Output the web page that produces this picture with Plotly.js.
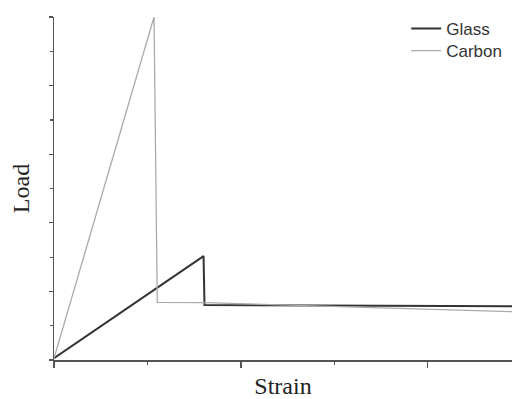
<!DOCTYPE html>
<html>
<head>
<meta charset="utf-8">
<script src="https://cdn.plot.ly/plotly-3.0.1.min.js"></script>
<style>html,body{margin:0;padding:0;background:#fff;}#chart{width:512px;height:399px;}</style>
</head>
<body>
<div id="chart"></div>
<script>
// Data (arbitrary units)
const glassStrain = [0, 1.60, 1.61, 4.9];
const glassLoad   = [0.05, 3.03, 1.60, 1.57];
const carbonStrain = [0, 1.07, 1.105, 1.61, 4.9];
const carbonLoad   = [0.05, 10.0, 1.68, 1.67, 1.41];
const seriesNames = ['Glass', 'Carbon'];

const traces = [
  {x: glassStrain, y: glassLoad, name: seriesNames[0], mode: 'lines', cliponaxis: false,
   legend: 'legend', line: {color: '#333333', width: 2}},
  {x: carbonStrain, y: carbonLoad, name: seriesNames[1], mode: 'lines', cliponaxis: false,
   legend: 'legend2', line: {color: '#aaaaaa', width: 1.3}}
];

const legendFont = {family: 'Liberation Sans, Arial, sans-serif', size: 17, color: '#333'};
const layout = {
  width: 512, height: 399,
  margin: {l: 54, r: 0, t: 17, b: 39},
  paper_bgcolor: '#ffffff', plot_bgcolor: '#ffffff',
  showlegend: true,
  legend: {x: 0.769, y: 1.0175, xanchor: 'left', yanchor: 'top', bgcolor: 'rgba(0,0,0,0)',
           font: legendFont, itemwidth: 30},
  legend2: {x: 0.769, y: 0.953, xanchor: 'left', yanchor: 'top', bgcolor: 'rgba(0,0,0,0)',
           font: legendFont, itemwidth: 30},
  xaxis: {range: [0, 4.9], showgrid: false, zeroline: false, showline: true,
          linecolor: '#555', linewidth: 1.5, ticks: 'outside', ticklen: 6, tickcolor: '#555',
          tickwidth: 1.2, dtick: 2, tick0: 0, showticklabels: false,
          minor: {dtick: 1, ticks: 'outside', ticklen: 3, tickcolor: '#555', showgrid: false},
          title: {text: 'Strain', standoff: 14,
                  font: {family: 'Liberation Serif, Times New Roman, serif', size: 24, color: '#222'}}},
  yaxis: {range: [0, 10], showgrid: false, zeroline: false, showline: true,
          linecolor: '#555', linewidth: 1.5, ticks: 'outside', ticklen: 4, tickcolor: '#555',
          tickwidth: 1.2, dtick: 2, tick0: 0, showticklabels: false,
          minor: {dtick: 1, ticks: 'outside', ticklen: 3, tickcolor: '#555', showgrid: false},
          title: {text: 'Load', standoff: 12,
                  font: {family: 'Liberation Serif, Times New Roman, serif', size: 24, color: '#222'}}}
};

Plotly.newPlot('chart', traces, layout, {displayModeBar: false, staticPlot: true});
</script>
</body>
</html>
